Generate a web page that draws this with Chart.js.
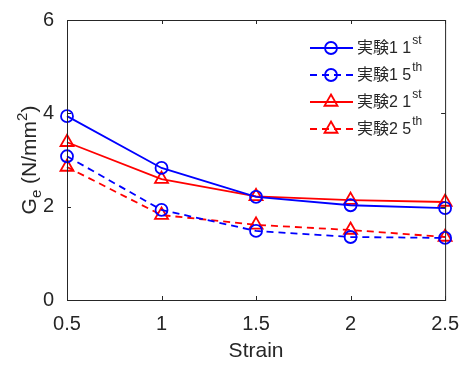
<!DOCTYPE html>
<html lang="ja">
<head>
  <meta charset="UTF-8" />
  <title>Ge vs Strain</title>
  <script src="https://cdn.jsdelivr.net/npm/chart.js"></script>
  <style>
    body { margin: 0; background: #fff; }
    #wrap { width: 463px; height: 365px; }
  </style>
</head>
<body>
  <div id="wrap"><canvas id="grafica" width="463" height="365"></canvas></div>
  <script>
    const strain = [0.5, 1, 1.5, 2, 2.5];
    const exp1First = [3.94, 2.83, 2.21, 2.03, 1.97];
    const exp1Fifth = [3.08, 1.93, 1.48, 1.35, 1.33];
    const exp2First = [3.38, 2.59, 2.22, 2.14, 2.10];
    const exp2Fifth = [2.85, 1.82, 1.61, 1.50, 1.35];
    const xTicks = [0.5, 1, 1.5, 2, 2.5];
    const yTicks = [0, 2, 4, 6];
    const legendNames = ['実験1 1', '実験1 5', '実験2 1', '実験2 5'];
    const legendSup = ['st', 'th', 'st', 'th'];

    const ink = '#262626';
    const font = '"Liberation Sans", Arial, "Noto Sans CJK JP", sans-serif';

    function pts(ys) {
      return strain.map((x, i) => ({ x: x, y: ys[i] }));
    }

    function serie(ys, color, shape, dash) {
      return {
        data: pts(ys),
        borderColor: color,
        backgroundColor: 'rgba(0,0,0,0)',
        pointBorderColor: color,
        pointBackgroundColor: 'rgba(0,0,0,0)',
        borderWidth: 1.8,
        pointBorderWidth: 1.8,
        pointStyle: shape,
        pointRadius: shape === 'circle' ? 6 : 7.5,
        borderDash: dash ? [7, 5] : [],
        tension: 0,
        clip: false
      };
    }

    // frame, inward ticks, axis titles and legend
    const decor = {
      id: 'decor',
      afterDraw(chart) {
        const ctx = chart.ctx;
        const a = chart.chartArea;
        const xs = chart.scales.x, ys = chart.scales.y;
        ctx.save();
        ctx.strokeStyle = ink;
        ctx.lineWidth = 1;
        ctx.strokeRect(a.left + 0.5, a.top + 0.5, a.right - a.left, a.bottom - a.top);
        ctx.beginPath();
        xTicks.forEach(v => {
          const p = Math.round(xs.getPixelForValue(v)) + 0.5;
          ctx.moveTo(p, a.bottom); ctx.lineTo(p, a.bottom - 4);
          ctx.moveTo(p, a.top); ctx.lineTo(p, a.top + 4);
        });
        yTicks.forEach(v => {
          const p = Math.round(ys.getPixelForValue(v)) + 0.5;
          ctx.moveTo(a.left, p); ctx.lineTo(a.left + 4, p);
          ctx.moveTo(a.right, p); ctx.lineTo(a.right - 4, p);
        });
        ctx.stroke();

        // x title
        ctx.fillStyle = ink;
        ctx.font = '21px ' + font;
        ctx.textAlign = 'center';
        ctx.textBaseline = 'middle';
        ctx.fillText('Strain', (a.left + a.right) / 2, 351);

        // y title: G_e (N/mm^2)
        ctx.save();
        ctx.translate(28, 160);
        ctx.rotate(-Math.PI / 2);
        ctx.textAlign = 'left';
        ctx.textBaseline = 'alphabetic';
        const p1 = 'G', p2 = 'e', p3 = ' (N/mm', p4 = '2', p5 = ')';
        ctx.font = '21px ' + font;
        const w1 = ctx.measureText(p1).width;
        const w3 = ctx.measureText(p3).width;
        const w5 = ctx.measureText(p5).width;
        ctx.font = '15px ' + font;
        const w2 = ctx.measureText(p2).width;
        const w4 = ctx.measureText(p4).width;
        let x0 = -(w1 + w2 + w3 + w4 + w5) / 2;
        const base = 8;
        ctx.font = '21px ' + font;
        ctx.fillText(p1, x0, base); x0 += w1;
        ctx.font = '15px ' + font;
        ctx.fillText(p2, x0, base + 5); x0 += w2;
        ctx.font = '21px ' + font;
        ctx.fillText(p3, x0, base); x0 += w3;
        ctx.font = '15px ' + font;
        ctx.fillText(p4, x0, base - 9); x0 += w4;
        ctx.font = '21px ' + font;
        ctx.fillText(p5, x0, base);
        ctx.restore();

        // legend
        chart.data.datasets.forEach((ds, i) => {
          const y = 48 + i * 27;
          ctx.save();
          ctx.strokeStyle = ds.borderColor;
          ctx.lineWidth = ds.borderWidth;
          ctx.setLineDash(ds.borderDash);
          ctx.beginPath();
          ctx.moveTo(310, y); ctx.lineTo(353, y);
          ctx.stroke();
          ctx.setLineDash([]);
          ctx.fillStyle = 'rgba(0,0,0,0)';
          ctx.strokeStyle = ds.pointBorderColor;
          ctx.lineWidth = ds.pointBorderWidth;
          Chart.helpers.drawPoint(ctx, {
            pointStyle: ds.pointStyle,
            radius: ds.pointRadius,
            borderWidth: ds.pointBorderWidth,
            rotation: 0
          }, 331, y);
          ctx.restore();
          ctx.fillStyle = ink;
          ctx.textAlign = 'left';
          ctx.textBaseline = 'middle';
          ctx.font = '16px ' + font;
          ctx.fillText(legendNames[i], 357, y + 1);
          const w = ctx.measureText(legendNames[i]).width;
          ctx.font = '12px ' + font;
          ctx.fillText(legendSup[i], 357 + w + 1, y - 7);
        });
        ctx.restore();
      }
    };

    new Chart(document.getElementById('grafica'), {
      type: 'line',
      data: {
        datasets: [
          serie(exp1First, '#0000ff', 'circle', false),
          serie(exp1Fifth, '#0000ff', 'circle', true),
          serie(exp2First, '#ff0000', 'triangle', false),
          serie(exp2Fifth, '#ff0000', 'triangle', true)
        ]
      },
      options: {
        responsive: false,
        animation: false,
        layout: { padding: { top: 20, right: 16, left: 0, bottom: 0 } },
        plugins: { legend: { display: false }, tooltip: { enabled: false } },
        scales: {
          x: {
            type: 'linear',
            min: 0.5, max: 2.5,
            afterBuildTicks: s => { s.ticks = xTicks.map(v => ({ value: v })); },
            afterFit: s => { s.height = 65; },
            grid: { display: false },
            border: { display: false },
            ticks: { color: ink, font: { size: 20, family: font }, padding: 4, maxRotation: 0,
                     callback: v => String(v) }
          },
          y: {
            min: 0, max: 6,
            afterBuildTicks: s => { s.ticks = yTicks.map(v => ({ value: v })); },
            afterFit: s => { s.width = 67; },
            grid: { display: false },
            border: { display: false },
            ticks: { color: ink, font: { size: 20, family: font }, padding: 5,
                     callback: v => String(v) }
          }
        }
      },
      plugins: [decor]
    });
  </script>
</body>
</html>
